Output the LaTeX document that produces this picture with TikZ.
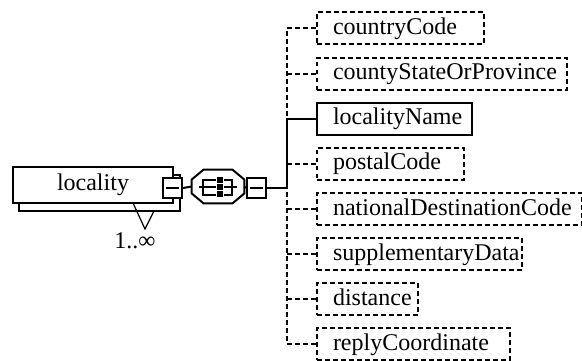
\documentclass[tikz,border=0pt]{standalone}
\usepackage{fontspec}
\setmainfont{Liberation Serif}

\begin{document}
\begin{tikzpicture}[x=0.5pt, y=-0.5pt, font=\fontsize{12}{14}\selectfont,
    elem/.style={draw, line width=1pt, fill=white, anchor=west, align=left,
      minimum height=16pt, inner xsep=8pt, inner ysep=0pt, text height=8.5pt, text depth=2.5pt},
    optelem/.style={elem, dash pattern=on 2.4pt off 1.6pt},
    solidline/.style={line width=1pt},
    optline/.style={line width=1pt, dash pattern=on 2.4pt off 1.6pt},
    minusbox/.style={draw, line width=1pt, fill=white, minimum width=9.5pt,
      minimum height=10pt, inner sep=0pt}]
  \useasboundingbox (0,0) rectangle (582,360);

  % locality, repeated 1..oo
  \draw [line width=1pt, fill=white] (19,175) rectangle (180,211);
  \node [draw, line width=1pt, fill=white, minimum width=80pt, minimum height=18pt, inner sep=0pt] (loc) at (93,185) {locality};
  \node [minusbox] (locminus) at (172.5,188) {};
  \draw [solidline] ([xshift=2pt]locminus.west) -- ([xshift=-2pt]locminus.east);
  \draw [line width=0.6pt] (133,203) -- (145,229) -- (154,211);
  \node [inner sep=0pt] (mult) at (135,241) {1..∞};

  % sequence compositor
  \node [minimum width=26pt, minimum height=16.5pt, inner sep=0pt] (seq) at (218,186.5) {};
  \draw [line width=1pt, fill=white] ([xshift=6pt]seq.north west) -- ([xshift=-6pt]seq.north east)
    -- ([yshift=-5pt]seq.north east) -- ([yshift=5pt]seq.south east) -- ([xshift=-6pt]seq.south east)
    -- ([xshift=6pt]seq.south west) -- ([yshift=5pt]seq.south west) -- ([yshift=-5pt]seq.north west) -- cycle;
  \begin{scope}[shift={(seq.center)}]
    \draw [solidline] (-19,0.5) -- (19,0.5);
    \draw [solidline] (-15,-6.5) rectangle (14,8.5);
    \foreach \q in {-7,0,7}
      \draw [fill=black, draw=white, line width=0.5pt] (-1.5,\q-3) rectangle (5.5,\q+4);
  \end{scope}
  \node [minusbox] (seqminus) at (256.5,188) {};
  \draw [solidline] ([xshift=2pt]seqminus.west) -- ([xshift=-2pt]seqminus.east);
  \draw [solidline] (locminus.east) -- (seq.west);
  \draw [solidline] (seq.east) -- (seqminus.west);

  \coordinate (spine) at (287,188);
  \draw [solidline] (seqminus.east) -- (spine);

  % child elements
  \node [optelem, text width=67.5pt] (cc) at (316,28) {countryCode};
  \node [optelem, text width=109pt] (csp) at (316,73.5) {countyStateOrProvince};
  \node [elem, text width=61.5pt] (ln) at (316,118.5) {localityName};
  \node [optelem, text width=57.5pt] (pc) at (316,163.5) {postalCode};
  \node [optelem, text width=116.5pt] (ndc) at (316,209) {nationalDestinationCode};
  \node [optelem, text width=86.5pt] (sd) at (316,254) {supplementaryData};
  \node [optelem, text width=34.5pt] (dist) at (316,299) {distance};
  \node [optelem, text width=80.5pt] (rc) at (316,344) {replyCoordinate};

  \draw [optline] (cc.west) -| (spine);
  \draw [optline] (rc.west) -| (spine);
  \draw [solidline] (ln.west) -| (spine);
  \draw [optline] (csp.west) -- (csp.west -| spine);
  \draw [optline] (pc.west) -- (pc.west -| spine);
  \draw [optline] (ndc.west) -- (ndc.west -| spine);
  \draw [optline] (sd.west) -- (sd.west -| spine);
  \draw [optline] (dist.west) -- (dist.west -| spine);
\end{tikzpicture}
\end{document}
